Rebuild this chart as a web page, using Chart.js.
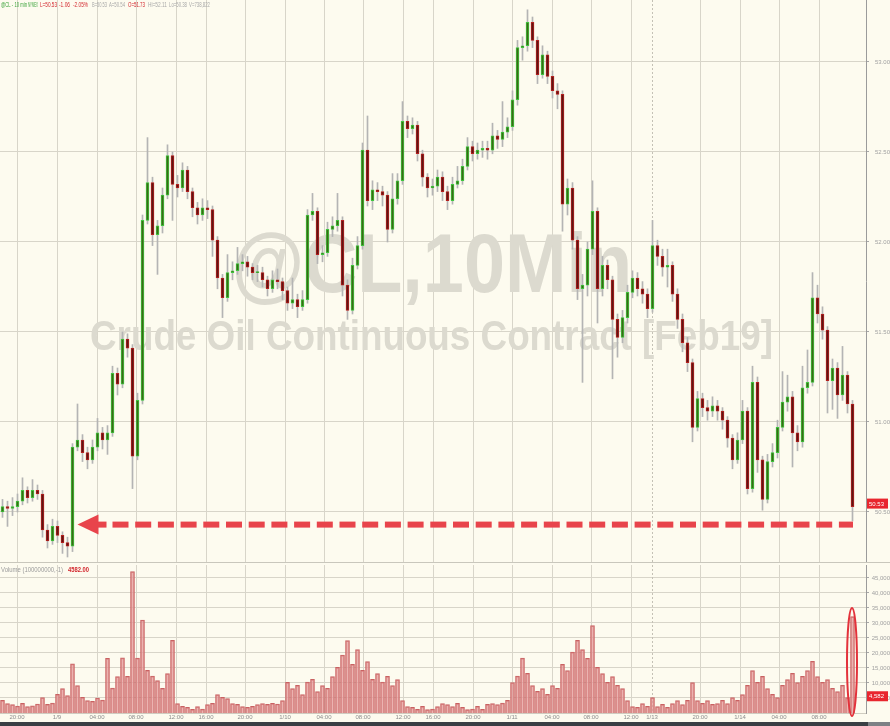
<!DOCTYPE html>
<html>
<head>
<meta charset="utf-8">
<script src="https://cdn.jsdelivr.net/npm/chart.js@4.4.0/dist/chart.umd.min.js"></script>
<style>
  body { margin: 0; background: #fdfbef; }
  #wrap { position: relative; width: 890px; height: 726px; background: #fdfbef; overflow: hidden; }
  #price { position: absolute; left: 0; top: 0; }
  #vol { position: absolute; left: 0; top: 562px; }
  #sep { position: absolute; left: 0; top: 562px; width: 890px; height: 1px; background: #c9c7bc; }
  #foot { position: absolute; left: 0; top: 722px; width: 868px; height: 4px; background: #3a3f44; }
  #foot2 { position: absolute; left: 868px; top: 722px; width: 22px; height: 4px; background: #7d8185; }
</style>
</head>
<body>
<div id="wrap">
  <canvas id="price" width="890" height="562"></canvas>
  <canvas id="vol" width="890" height="160"></canvas>
  <div id="sep"></div>
  <div id="foot"></div>
  <div id="foot2"></div>
</div>
<script>
// CL 10 min candles, one candle per slot
const opens = [
  50.50,50.53,50.52,50.53,50.56,50.62,50.58,50.62,50.60,50.40,
  50.34,50.42,50.37,50.33,50.31,50.86,50.90,50.83,50.79,50.86,
  50.94,50.90,50.94,51.27,51.21,51.46,51.41,50.81,51.12,52.12,
  52.33,52.04,52.09,52.26,52.48,52.32,52.30,52.40,52.28,52.19,
  52.15,52.19,52.18,52.01,51.80,51.69,51.83,51.84,51.88,51.89,
  51.86,51.83,51.83,51.79,51.74,51.79,51.78,51.73,51.66,51.68,
  51.64,51.68,52.15,52.17,51.93,51.94,52.07,52.09,52.12,51.76,
  51.62,51.87,51.98,52.51,52.23,52.29,52.28,52.26,52.07,52.24,
  52.34,52.67,52.63,52.65,52.49,52.36,52.30,52.31,52.36,52.28,
  52.23,52.32,52.34,52.42,52.53,52.49,52.51,52.52,52.51,52.59,
  52.57,52.61,52.64,52.79,53.08,53.09,53.22,53.12,52.93,53.04,
  52.92,52.84,52.82,52.21,52.30,52.01,51.74,51.76,51.96,52.17,
  51.74,51.87,51.79,51.57,51.47,51.58,51.72,51.80,51.74,51.71,
  51.63,51.98,51.92,51.86,51.87,51.71,51.57,51.44,51.33,50.97,
  51.13,51.08,51.06,51.09,51.06,51.01,50.91,50.79,50.90,51.06,
  50.63,51.22,50.79,50.57,50.78,50.83,50.97,51.11,51.14,50.94,
  50.89,51.19,51.22,51.69,51.60,51.51,51.23,51.30,51.15,51.26,
  51.10
];
const closes = [
  50.53,50.52,50.53,50.56,50.62,50.58,50.62,50.60,50.40,50.34,
  50.42,50.37,50.33,50.31,50.86,50.90,50.83,50.79,50.86,50.94,
  50.90,50.94,51.27,51.21,51.46,51.41,50.81,51.12,52.12,52.33,
  52.04,52.09,52.26,52.48,52.32,52.30,52.40,52.28,52.19,52.15,
  52.19,52.18,52.01,51.80,51.69,51.83,51.84,51.88,51.89,51.86,
  51.83,51.83,51.79,51.74,51.79,51.78,51.73,51.66,51.68,51.64,
  51.68,52.15,52.17,51.93,51.94,52.07,52.09,52.12,51.76,51.62,
  51.87,51.98,52.51,52.23,52.29,52.28,52.26,52.07,52.24,52.34,
  52.67,52.63,52.65,52.49,52.36,52.30,52.31,52.36,52.28,52.23,
  52.32,52.34,52.42,52.53,52.49,52.51,52.52,52.51,52.59,52.57,
  52.61,52.64,52.79,53.08,53.09,53.22,53.12,52.93,53.04,52.92,
  52.84,52.82,52.21,52.30,52.01,51.74,51.76,51.96,52.17,51.74,
  51.87,51.79,51.57,51.47,51.58,51.72,51.80,51.74,51.71,51.63,
  51.98,51.92,51.86,51.87,51.71,51.57,51.44,51.33,50.97,51.13,
  51.08,51.06,51.09,51.06,51.01,50.91,50.79,50.90,51.06,50.63,
  51.22,50.79,50.57,50.78,50.83,50.97,51.11,51.14,50.94,50.89,
  51.19,51.22,51.69,51.60,51.51,51.23,51.30,51.15,51.26,51.10,
  50.53
];
const highs = [
  50.57,50.56,50.58,50.60,50.69,50.64,50.68,50.65,50.62,50.43,
  50.46,50.45,50.39,50.36,50.88,51.10,50.93,50.86,50.90,51.02,
  50.97,50.98,51.31,51.30,51.50,51.49,51.43,51.16,52.15,52.58,
  52.36,52.12,52.30,52.54,52.50,52.37,52.44,52.42,52.30,52.22,
  52.24,52.23,52.20,52.03,51.82,51.93,51.89,51.97,51.93,51.92,
  51.88,51.87,51.86,51.81,51.84,51.85,51.80,51.75,51.80,51.71,
  51.73,52.18,52.27,52.19,51.98,52.11,52.14,52.27,52.14,51.79,
  51.91,52.03,52.55,52.70,52.34,52.33,52.31,52.28,52.38,52.38,
  52.78,52.70,52.69,52.67,52.51,52.38,52.35,52.40,52.39,52.31,
  52.36,52.42,52.46,52.58,52.56,52.55,52.56,52.56,52.66,52.62,
  52.78,52.69,52.84,53.12,53.14,53.29,53.25,53.14,53.09,53.06,
  52.95,52.88,52.84,52.35,52.33,52.03,51.82,52.00,52.34,52.19,
  51.92,51.90,51.81,51.60,51.62,51.76,51.84,51.83,51.78,51.74,
  52.12,52.01,51.96,51.96,51.89,51.74,51.60,51.47,51.35,51.17,
  51.16,51.12,51.14,51.12,51.08,51.03,50.93,50.94,51.12,51.08,
  51.31,51.25,50.81,50.82,50.88,51.01,51.28,51.26,51.17,50.98,
  51.31,51.40,51.83,51.76,51.64,51.53,51.35,51.33,51.42,51.28,
  51.12
];
const lows = [
  50.47,50.42,50.48,50.50,50.54,50.55,50.56,50.57,50.36,50.30,
  50.32,50.33,50.27,50.25,50.28,50.84,50.78,50.74,50.77,50.84,
  50.85,50.82,50.92,51.15,51.19,51.36,50.63,50.79,51.10,52.10,
  51.98,51.82,52.05,52.24,52.12,52.25,52.28,52.24,52.14,52.10,
  52.12,52.13,51.92,51.74,51.58,51.67,51.79,51.82,51.84,51.81,
  51.79,51.78,51.75,51.70,51.72,51.74,51.68,51.62,51.63,51.58,
  51.62,51.66,52.12,51.88,51.89,51.92,52.03,52.06,51.70,51.57,
  51.60,51.85,51.96,52.20,52.18,52.23,52.20,52.00,52.05,52.21,
  52.32,52.58,52.60,52.45,52.31,52.25,52.26,52.28,52.23,52.18,
  52.21,52.30,52.32,52.40,52.45,52.46,52.47,52.46,52.49,52.52,
  52.53,52.58,52.62,52.76,53.01,53.06,53.08,52.88,52.91,52.88,
  52.80,52.74,52.06,52.15,51.96,51.68,51.22,51.70,51.93,51.55,
  51.70,51.74,51.24,51.36,51.44,51.55,51.69,51.70,51.66,51.58,
  51.61,51.87,51.81,51.75,51.67,51.52,51.39,51.28,50.89,50.95,
  51.03,51.01,51.03,51.01,50.96,50.86,50.74,50.77,50.88,50.60,
  50.61,50.72,50.51,50.55,50.75,50.80,50.95,51.06,50.75,50.84,
  50.86,51.16,51.20,51.55,51.46,51.05,51.07,51.02,51.12,51.05,
  50.45
];
const volumes = [
  4200,3100,2800,2300,3200,2100,2400,3000,5100,2900,
  3300,6200,8100,5800,16400,9100,5200,4100,3900,5000,
  4300,18200,8300,12100,18400,12200,47100,18300,31000,14200,
  12300,10800,8200,13100,24200,3100,2200,1900,1200,2100,
  1300,2800,3200,6100,5200,4800,3100,2900,2100,1900,
  2200,2800,3100,2900,3200,3000,4100,10200,8100,9200,
  6100,10300,11200,7100,9100,8200,12100,15200,19300,24100,
  16200,21100,14200,17100,11200,13100,10300,12200,9100,11100,
  4100,2100,1900,1200,2200,1100,1300,2100,3100,2800,
  2100,3200,1900,1100,1300,2200,1200,2900,3100,2800,
  3300,4200,10100,12300,18300,13200,9100,7200,8100,6200,
  9100,8200,16200,14100,20300,24200,21100,18200,29100,15200,
  13100,10200,12100,9200,8100,4100,2100,1900,3100,2200,
  5100,2100,2900,1900,3100,4100,2800,4200,10100,4100,
  3200,4100,2900,3100,4200,3100,5100,4200,6100,9200,
  14100,10200,12200,8100,6200,5100,9200,11100,13200,10100,
  12200,14100,17200,12100,10200,11100,8200,7100,9200,5100,
  32100
];

// time axis (slot position -> label)
const timePos = [2.9, 10.9, 18.9, 26.7, 34.7, 40.7, 48.5, 56.5, 64.3, 72.1, 80.1,
                 86.1, 94.1, 101.9, 109.9, 117.7, 125.7, 129.9, 139.5, 147.5, 155.3, 163.3];
const timeLabels = ['20:00', '1/9', '04:00', '08:00', '12:00', '16:00', '20:00', '1/10', '04:00', '08:00', '12:00',
                    '16:00', '20:00', '1/11', '04:00', '08:00', '12:00', '1/13', '20:00', '1/14', '04:00', '08:00'];
const sessionBreak = 129.9;
const priceTicks = [50.5, 51.0, 51.5, 52.0, 52.5, 53.0];
const volumeTicks = [5000, 10000, 15000, 20000, 25000, 30000, 35000, 40000, 45000];

const lastPrice = 50.53;
const lastVolume = 4582;
const arrowLevel = 50.43;

const FONT = "'Liberation Sans', Arial, sans-serif";
const gridCol = '#d8d5c9';

function fitText(ctx, text, x, y, w) {
  const m = ctx.measureText(text).width;
  ctx.save();
  ctx.translate(x, y);
  ctx.scale(w / m, 1);
  ctx.fillText(text, 0, 0);
  ctx.restore();
}

function timeAxis(showLabels) {
  return {
    type: 'linear', min: -0.5, max: 172.7, offset: false,
    afterBuildTicks: s => { s.ticks = timePos.map(v => ({ value: v })); },
    afterFit: s => {
      s.paddingLeft = 0; s.paddingRight = 0;
      s.height = showLabels ? 9 : 0;
    },
    ticks: {
      display: showLabels, autoSkip: false, maxRotation: 0, padding: 1,
      color: '#8d8d8d', font: { size: 6, family: FONT },
      callback: (v, i) => timeLabels[i]
    },
    grid: {
      offset: false, drawTicks: false,
      color: c => (c.tick && c.tick.value === sessionBreak) ? 'rgba(0,0,0,0)' : gridCol
    },
    border: { display: showLabels, color: '#cfccc0' }
  };
}

function rightAxis(min, max, ticks, fmt) {
  return {
    position: 'right', min: min, max: max,
    afterFit: s => { s.width = 24; s.paddingTop = 0; s.paddingBottom = 0; },
    afterBuildTicks: s => { s.ticks = ticks.map(v => ({ value: v })); },
    ticks: { color: '#a2a2a2', font: { size: 6, family: FONT }, padding: 1, crossAlign: 'far', callback: fmt },
    grid: { color: gridCol, tickLength: 3, tickColor: '#a8a8a8' },
    border: { color: '#9b9b9b', width: 1 }
  };
}

function breakLine(chart) {
  const { ctx, chartArea, scales } = chart;
  const xb = Math.round(scales.x.getPixelForValue(sessionBreak)) + 0.5;
  ctx.save();
  ctx.strokeStyle = '#c4c1b5';
  ctx.setLineDash([2, 2]);
  ctx.beginPath();
  ctx.moveTo(xb, chartArea.top);
  ctx.lineTo(xb, chartArea.bottom);
  ctx.stroke();
  ctx.restore();
}

function valueBox(ctx, text, x, yc) {
  ctx.save();
  ctx.fillStyle = '#e8262e';
  ctx.fillRect(x + 1, yc - 5, 21, 10);
  ctx.fillStyle = '#ffffff';
  ctx.font = '6px ' + FONT;
  ctx.textBaseline = 'middle';
  ctx.fillText(text, x + 3, yc + 0.5);
  ctx.restore();
}

const priceDeco = {
  id: 'priceDeco',
  beforeDatasetsDraw(chart) {
    const { ctx } = chart;
    breakLine(chart);
    ctx.save();
    ctx.fillStyle = '#dcdacf';
    ctx.textBaseline = 'alphabetic';
    ctx.font = 'bold 84px ' + FONT;
    fitText(ctx, '@CL,10Min', 232, 292, 400);
    ctx.font = 'bold 43px ' + FONT;
    fitText(ctx, 'Crude Oil Continuous Contract [Feb19]', 90, 350, 683);
    ctx.restore();
  },
  afterDatasetsDraw(chart) {
    const { ctx, scales } = chart;
    const xs = scales.x, ys = scales.y;
    // red dashed arrow
    const ya = ys.getPixelForValue(arrowLevel);
    const xTip = xs.getPixelForValue(15);
    const xEnd = xs.getPixelForValue(170.1);
    ctx.save();
    ctx.fillStyle = '#e8444b';
    ctx.beginPath();
    ctx.moveTo(xTip, ya);
    ctx.lineTo(xTip + 21, ya - 10);
    ctx.lineTo(xTip + 21, ya + 10);
    ctx.closePath();
    ctx.fill();
    ctx.fillRect(xTip + 20, ya - 3, 9, 6);
    for (let x0 = xTip + 35; x0 < xEnd; x0 += 22.7) {
      ctx.fillRect(x0, ya - 3, Math.min(16, xEnd - x0), 6);
    }
    ctx.restore();

    // header line
    const segs = [
      ['@CL - 10 min', 1, 27, '#3aa33a'], ['NYMEX', 28, 38, '#3aa33a'],
      ['L=50.53', 40, 57, '#d2262d'], ['-1.06', 59, 70, '#d2262d'], ['-2.05%', 73, 88, '#d2262d'],
      ['B=50.53', 92, 107, '#a9a9a9'], ['A=50.54', 109, 125, '#a9a9a9'],
      ['O=51.73', 128, 145, '#d2262d'],
      ['Hi=52.11', 148, 167, '#a9a9a9'], ['Lo=50.38', 169, 187, '#a9a9a9'], ['V=738,822', 189, 210, '#a9a9a9']
    ];
    ctx.save();
    ctx.font = '7px ' + FONT;
    ctx.textBaseline = 'alphabetic';
    segs.forEach(s => { ctx.fillStyle = s[3]; fitText(ctx, s[0], s[1], 7, s[2] - s[1]); });
    ctx.restore();

    valueBox(ctx, lastPrice.toFixed(2), chart.chartArea.right, ys.getPixelForValue(lastPrice) - 3);
  }
};

const volDeco = {
  id: 'volDeco',
  beforeDatasetsDraw(chart) { breakLine(chart); },
  afterDatasetsDraw(chart) {
    const { ctx, scales, chartArea } = chart;
    ctx.save();
    ctx.font = '7px ' + FONT;
    ctx.textBaseline = 'alphabetic';
    ctx.fillStyle = '#9a9a9a';
    fitText(ctx, 'Volume (100000000,-1)', 1, 10, 62);
    ctx.fillStyle = '#d2262d';
    ctx.font = 'bold 7px ' + FONT;
    fitText(ctx, '4582.00', 68, 10, 21);
    ctx.restore();

    // red ring round the last bar
    const cx = scales.x.getPixelForValue(169.9);
    const cy = scales.y.getPixelForValue(17000);
    ctx.save();
    ctx.strokeStyle = '#e3323b';
    ctx.lineWidth = 2;
    ctx.beginPath();
    ctx.ellipse(cx, cy, 5, 54, 0, 0, Math.PI * 2);
    ctx.stroke();
    ctx.restore();

    valueBox(ctx, lastVolume.toLocaleString('en-US'), chartArea.right, scales.y.getPixelForValue(lastVolume) - 3);
  }
};

const slots = closes.map((c, i) => i);
const isUp = slots.map(i => closes[i] >= opens[i]);

new Chart(document.getElementById('price'), {
  type: 'bar',
  data: {
    datasets: [
      {
        data: slots.map(i => ({ x: i, y: [opens[i], closes[i]] })),
        backgroundColor: slots.map(i => isUp[i] ? '#3c6a16' : '#5e1513'),
        borderColor: slots.map(i => isUp[i] ? '#3ec63e' : '#b5201f'),
        borderWidth: 1, borderSkipped: false, barThickness: 3, minBarLength: 1, grouped: false
      },
      {
        data: slots.map(i => ({ x: i, y: [lows[i], highs[i]] })),
        backgroundColor: '#b4b4b4', borderWidth: 0, barThickness: 1, grouped: false
      }
    ]
  },
  options: {
    responsive: false, animation: false, devicePixelRatio: 1,
    layout: { padding: 0 },
    plugins: { legend: { display: false }, tooltip: { enabled: false } },
    scales: {
      x: timeAxis(false),
      y: rightAxis(50.2222, 53.3444, priceTicks, v => v.toFixed(2))
    }
  },
  plugins: [priceDeco]
});

new Chart(document.getElementById('vol'), {
  type: 'bar',
  data: {
    datasets: [{
      data: slots.map(i => ({ x: i, y: volumes[i] })),
      backgroundColor: 'rgba(226,150,150,0.7)',
      borderColor: '#c96262',
      borderWidth: { left: 1, right: 1, top: 1 },
      borderSkipped: 'start', barThickness: 4, grouped: false
    }]
  },
  options: {
    responsive: false, animation: false, devicePixelRatio: 1,
    layout: { padding: { top: 3 } },
    plugins: { legend: { display: false }, tooltip: { enabled: false } },
    scales: {
      x: timeAxis(true),
      y: rightAxis(0, 49333, volumeTicks, v => v.toLocaleString('en-US'))
    }
  },
  plugins: [volDeco]
});
</script>
</body>
</html>
